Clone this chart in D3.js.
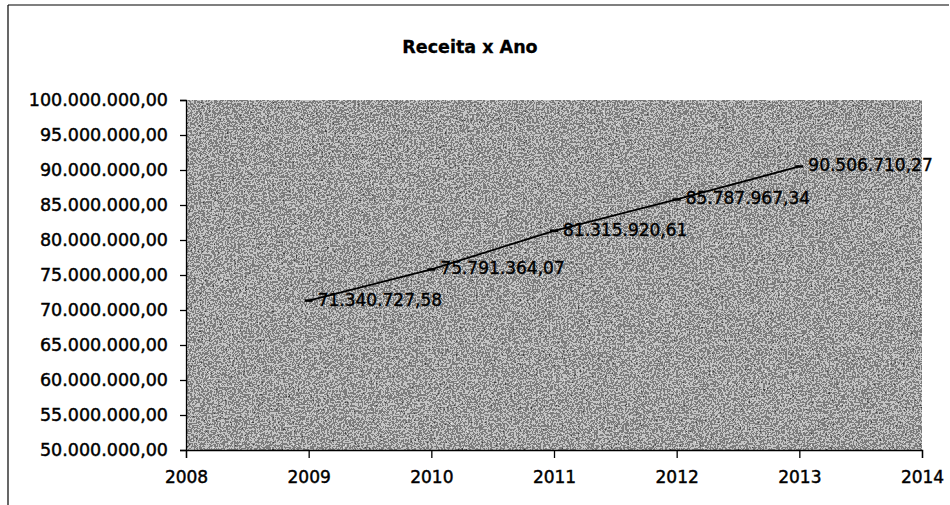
<!DOCTYPE html>
<html>
<head>
<meta charset="utf-8">
<script src="https://cdn.jsdelivr.net/npm/d3@7"></script>
<style>
  html, body { margin: 0; padding: 0; background: #fff; }
  svg { display: block; font-family: "DejaVu Sans", sans-serif; }
</style>
</head>
<body>
<svg id="chart" width="950" height="505"></svg>
<script>
// ---- data ----
const title = "Receita x Ano";
const years = [2009, 2010, 2011, 2012, 2013];
const receita = [71340727.58, 75791364.07, 81315920.61, 85787967.34, 90506710.27];
const xTicks = [2008, 2009, 2010, 2011, 2012, 2013, 2014];
const yTicks = [50e6, 55e6, 60e6, 65e6, 70e6, 75e6, 80e6, 85e6, 90e6, 95e6, 100e6];

// ---- layout ----
const W = 950, H = 505;
const plot = { left: 186, right: 922, top: 100, bottom: 450 };

const svg = d3.select("#chart");
const ptBR = d3.formatLocale({ decimal: ",", thousands: ".", grouping: [3], currency: ["R$ ", ""] });
const fmt = ptBR.format(",.2f");

const x = d3.scaleLinear().domain([2008, 2014]).range([plot.left, plot.right]);
const y = d3.scaleLinear().domain([50e6, 100e6]).range([plot.bottom, plot.top]);

// outer frame (top and left edges visible)
svg.append("line").attr("x1", 8).attr("x2", 949).attr("y1", 5).attr("y2", 5)
  .attr("stroke", "#000").attr("stroke-width", 1.2);
svg.append("line").attr("x1", 8).attr("x2", 8).attr("y1", 5).attr("y2", H)
  .attr("stroke", "#000").attr("stroke-width", 1.2);

// noisy scanned background for plot area
const defs = svg.append("defs");
const f = defs.append("filter").attr("id", "speckle")
  .attr("x", 0).attr("y", 0).attr("width", 1).attr("height", 1);
f.append("feTurbulence").attr("type", "fractalNoise").attr("baseFrequency", "0.55")
  .attr("numOctaves", 2).attr("seed", 7).attr("result", "noise");
f.append("feColorMatrix").attr("type", "matrix")
  .attr("values", "0.33 0.33 0.33 0 0  0.33 0.33 0.33 0 0  0.33 0.33 0.33 0 0  0 0 0 0 1")
  .attr("result", "gray");
const ct = f.append("feComponentTransfer");
["feFuncR", "feFuncG", "feFuncB"].forEach(k =>
  ct.append(k).attr("type", "discrete").attr("tableValues", "0.05 0.05 0.2 0.55 0.85 0.97"));

svg.append("rect")
  .attr("x", plot.left).attr("y", plot.top)
  .attr("width", plot.right - plot.left).attr("height", plot.bottom - plot.top)
  .attr("fill", "#777")
  .attr("filter", "url(#speckle)");

// faint gridlines
svg.append("g").selectAll("line").data(yTicks.slice(1, -1)).join("line")
  .attr("x1", plot.left).attr("x2", plot.right)
  .attr("y1", d => y(d)).attr("y2", d => y(d))
  .attr("stroke", "#c8c8c8").attr("stroke-width", 1).attr("opacity", 0.35);

// title
svg.append("text").attr("x", 470).attr("y", 53).attr("text-anchor", "middle")
  .attr("font-size", 17.5).attr("font-weight", "bold").attr("fill", "#000")
  .attr("stroke", "#000").attr("stroke-width", 0.3).text(title);

// axes
const yAxis = d3.axisLeft(y).tickValues(yTicks).tickFormat(fmt).tickSize(6).tickPadding(12);
const gy = svg.append("g").attr("transform", `translate(${plot.left},0)`).call(yAxis);
gy.selectAll("text").attr("font-size", 17.5).attr("fill", "#000")
  .attr("stroke", "#000").attr("stroke-width", 0.45)
  .attr("font-family", "DejaVu Sans, sans-serif");
gy.selectAll("line, path").attr("stroke", "#000").attr("stroke-width", 1.3);

const xAxis = d3.axisBottom(x).tickValues(xTicks).tickFormat(d3.format("d")).tickSize(8).tickPadding(13);
const gx = svg.append("g").attr("transform", `translate(0,${plot.bottom})`).call(xAxis);
gx.selectAll("text").attr("font-size", 17).attr("fill", "#000")
  .attr("stroke", "#000").attr("stroke-width", 0.45)
  .attr("font-family", "DejaVu Sans, sans-serif");
gx.selectAll("line, path").attr("stroke", "#000").attr("stroke-width", 1.3);

// series
const pts = years.map((yr, i) => ({ yr, v: receita[i] }));
svg.append("path").datum(pts)
  .attr("fill", "none").attr("stroke", "#000").attr("stroke-width", 1.8)
  .attr("d", d3.line().x(d => x(d.yr)).y(d => y(d.v)));

// dash markers
svg.append("g").selectAll("line").data(pts).join("line")
  .attr("x1", d => x(d.yr) - 4).attr("x2", d => x(d.yr) + 4)
  .attr("y1", d => y(d.v)).attr("y2", d => y(d.v))
  .attr("stroke", "#000").attr("stroke-width", 2.5);

// data labels
svg.append("g").selectAll("text").data(pts).join("text")
  .attr("x", d => x(d.yr) + 9).attr("y", d => y(d.v))
  .attr("dominant-baseline", "middle")
  .attr("font-size", 17).attr("fill", "#000")
  .attr("stroke", "#000").attr("stroke-width", 0.4)
  .text(d => fmt(d.v));
</script>
</body>
</html>
